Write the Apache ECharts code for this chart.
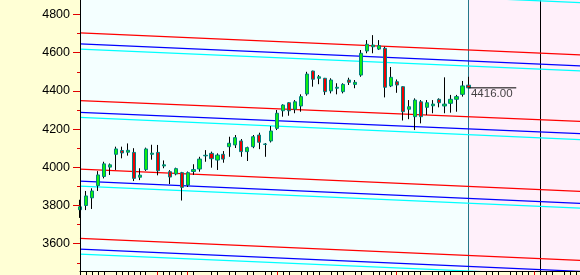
<!DOCTYPE html>
<html><head><meta charset="utf-8">
<script src="https://cdn.jsdelivr.net/npm/echarts@6/dist/echarts.min.js"></script>
<style>html,body{margin:0;padding:0;background:#FFFFD5;}#c{width:580px;height:275px;}</style>
</head><body><div id="c"></div>
<script>
// slot labels (trading sessions, incl. future empty slots)
const categories = [];
for (let i = 0; i <= 84; i++) categories.push(String(i));

// candle values
const opens  = [3778,3800,3840,3904,3952,4001,4068,4088,4079,4078,3948,3988,4068,4078,4007,3977,3965,3972,3907,3978,
                3991,4060,4073,4038,4068,4108,4117,4138,4082,4108,4169,4120,4138,4204,4296,4338,4304,4321,4384,4504,
                4466,4466,4400,4414,4396,4457,4434,4483,4609,4631,4619,4623,4426,4448,4422,4304,4265,4343,4314,4322,
                4356,4321,4335,4356,4382,4430];
const closes = [3793,3850,3876,3960,4018,4013,4096,4075,4089,3942,3959,4096,4074,3982,4013,3949,3993,3895,3972,3988,
                4043,4063,4045,4064,4043,4126,4155,4082,4103,4160,4131,4122,4190,4283,4326,4296,4343,4370,4488,4461,
                4474,4396,4457,4419,4434,4445,4445,4597,4644,4640,4637,4419,4471,4431,4291,4317,4352,4265,4338,4331,
                4338,4331,4356,4370,4426,4416];
const lows   = [3735,3776,3782,3876,3942,3960,3986,4047,4061,3928,3933,3981,4040,3958,3995,3912,3958,3826,3897,3960,
                3977,4029,3998,3986,4024,4055,4101,4055,4033,4100,4095,4055,4130,4195,4265,4270,4283,4291,4375,4422,
                4435,4379,4387,4382,4387,4431,4414,4474,4597,4597,4614,4366,4420,4390,4245,4252,4195,4230,4274,4283,
                4314,4283,4286,4291,4370,4414];
const highs  = [3830,3876,3890,3980,4029,4020,4108,4108,4125,4100,3995,4103,4118,4117,4036,3985,3998,3976,3978,4016,
                4055,4090,4082,4073,4085,4160,4169,4148,4108,4169,4181,4127,4216,4300,4330,4340,4352,4382,4500,4506,
                4483,4468,4466,4440,4440,4469,4457,4614,4666,4692,4666,4631,4525,4460,4424,4352,4361,4352,4352,4352,
                4361,4471,4379,4379,4452,4474];

// parallel channel lines: value at first slot and at last slot
const redStart  = [5061, 4704, 4349, 3990, 3628];
const redEnd    = [4946, 4588, 4240, 3873, 3512];
const blueStart = [5003, 4646, 4288, 3928, 3571];
const blueEnd   = [4888, 4531, 4176, 3811, 3454];
const cyanStart = [4977, 4619, 4261, 3902, 3546];
const cyanEnd   = [4862, 4505, 4145, 3786, 3431];

// x-axis tick marks
const blackTicks = [0,1,2,3,4,6,7,8,9,10,11,14,15,16,17,19,22,23,25,26,28,29,31,32,34,35,37,38,39,40,42,43,44,46,47,
                    49,50,51,52,54,55,56,57,59,60,61,62,64,65,66,68,69,70,72,73,74,75,77,78,79,81,82,83,84];
const redTicks = [13, 18, 33, 53, 76];

const futureLineCat = '77';
const closeLineEndCat = '73';

const lastIdx = closes.length - 1;
const lastCat = categories[lastIdx];
const lastClose = closes[lastIdx];
const firstCat = categories[0], endCat = categories[categories.length - 1];

const wickData = opens.map((o, i) => [o, closes[i], lows[i], highs[i]]);
const bodyData = opens.map((o, i) => [o, closes[i], Math.min(o, closes[i]), Math.max(o, closes[i])]);

const blackSet = new Set(blackTicks), redSet = new Set(redTicks);
const FONT = 'Liberation Sans, Arial, sans-serif';

const series = [];
const groups = [['#FF0000', redStart, redEnd], ['#0000FF', blueStart, blueEnd], ['#00FFFF', cyanStart, cyanEnd]];
groups.forEach(([col, st, en]) => {
  st.forEach((v, k) => {
    series.push({
      type: 'line', z: 3, symbol: 'none', silent: true,
      data: [[firstCat, v], [endCat, en[k]]],
      lineStyle: { color: col, width: 1.25 }
    });
  });
});
series[0].markArea = {
  silent: true, z: 1,
  itemStyle: { color: '#FFF0FA' },
  data: [[{ xAxis: lastCat }, { xAxis: endCat }]]
};
series[0].markLine = {
  silent: true, z: 2, symbol: ['none', 'none'], label: { show: false },
  lineStyle: { type: 'solid', width: 1 },
  data: [
    { xAxis: lastCat, lineStyle: { color: '#24788A', type: 'solid', width: 1 } },
    { xAxis: futureLineCat, lineStyle: { color: '#000000', type: 'solid', width: 1 } }
  ]
};

series.push({
  type: 'candlestick', z: 6, barWidth: 1, silent: true, data: wickData,
  itemStyle: { color: '#000', color0: '#000', borderColor: '#000', borderColor0: '#000', borderWidth: 1 }
});
series.push({
  type: 'candlestick', z: 7, barWidth: 3.6, silent: true, data: bodyData,
  itemStyle: { color: '#10EE10', color0: '#EE0000', borderColor: '#008080', borderColor0: '#008080', borderWidth: 1 }
});
series.push({
  type: 'line', z: 8, symbol: 'none', silent: true,
  data: [[lastCat, lastClose], [closeLineEndCat, lastClose]],
  lineStyle: { color: '#000', width: 1 }
});
series.push({
  type: 'scatter', z: 9, symbolSize: 1, silent: true,
  itemStyle: { color: 'rgba(0,0,0,0)' },
  data: [[lastCat, lastClose]],
  label: { show: true, position: 'right', distance: 2, offset: [0, 6],
           formatter: () => lastClose.toFixed(2), color: '#111', fontSize: 11.5, fontFamily: FONT }
});

const chart = echarts.init(document.getElementById('c'), null, { renderer: 'canvas', width: 580, height: 275 });
chart.setOption({
  animation: false,
  backgroundColor: '#FFFFD5',
  grid: { left: 80, right: -2, top: -23.7, bottom: -6.9, show: true, backgroundColor: '#F4FFFF',
          borderWidth: 0, containLabel: false, outerBoundsMode: 'none' },
  xAxis: [
    { type: 'category', data: categories, boundaryGap: false, position: 'bottom', offset: -10.4, z: 60,
      axisLine: { show: true, onZero: false, lineStyle: { color: '#000', width: 1 } },
      axisTick: { show: true, length: 4, interval: (i) => blackSet.has(i), lineStyle: { color: '#000' } },
      axisLabel: { show: false }, splitLine: { show: false } },
    { type: 'category', data: categories, boundaryGap: false, position: 'bottom', offset: -10.4, z: 61,
      axisLine: { show: false, onZero: false },
      axisTick: { show: true, length: 4, interval: (i) => redSet.has(i), lineStyle: { color: '#E00000' } },
      axisLabel: { show: false }, splitLine: { show: false } }
  ],
  yAxis: {
    type: 'value', min: 3400, max: 5000, interval: 200, position: 'left', z: 40, scale: false,
    axisLine: { show: true, onZero: false, lineStyle: { color: '#000', width: 1 } },
    axisTick: { show: true, length: 7, lineStyle: { color: '#E00000' } },
    minorTick: { show: true, splitNumber: 2, length: 3, lineStyle: { color: '#E00000' } },
    axisLabel: { margin: 10, color: '#000', fontSize: 12.5, fontFamily: FONT, formatter: (v) => String(v) },
    splitLine: { show: false }, minorSplitLine: { show: false }
  },
  graphic: { elements: [
    { type: 'rect', z: 50, silent: true, shape: { x: 0, y: 272, width: 580, height: 3 }, style: { fill: '#FFFFD5' } }
  ] },
  series: series
});
</script>
</body></html>
